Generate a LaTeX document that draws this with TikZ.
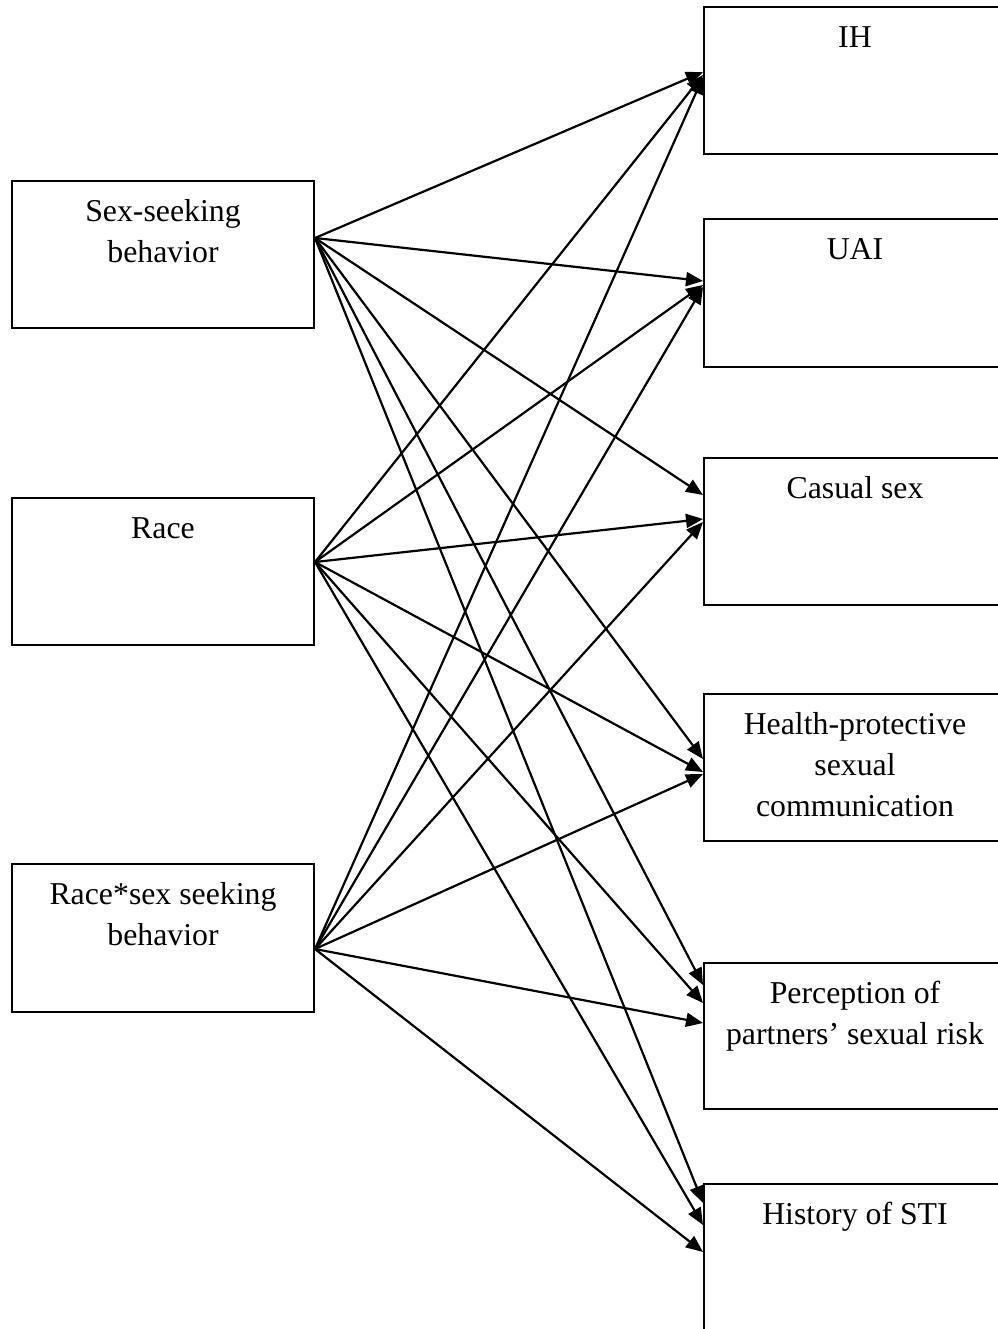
\documentclass[tikz,border=0pt]{standalone}
\usepackage{fontspec}
\setmainfont{Liberation Serif}
\usetikzlibrary{arrows.meta,calc}
\begin{document}
\begin{tikzpicture}[x=1pt,y=-1pt,
  box/.style={draw,line width=2pt,minimum width=302pt,inner sep=0pt,anchor=north west},
  lbl/.style={anchor=north,align=center,inner sep=0pt,font=\fontsize{31.8}{41}\selectfont},
  arr/.style={line width=2.2pt,-{Triangle[length=17pt,width=14pt]}}]
\useasboundingbox (0,0) rectangle (997,1329);
% left boxes
\node[box,minimum height=147pt] (ss) at (11,180) {};
\node[box,minimum height=147pt] (race) at (11,497) {};
\node[box,minimum height=148pt] (rs) at (11,863) {};
% right boxes
\node[box,minimum height=147pt] (ih) at (703,6) {};
\node[box,minimum height=148pt] (uai) at (703,218) {};
\node[box,minimum height=147pt] (cas) at (703,457) {};
\node[box,minimum height=147pt] (hp) at (703,693) {};
\node[box,minimum height=146pt] (per) at (703,962) {};
\node[box,minimum height=150pt] (sti) at (703,1183) {};
% labels
\node[lbl] (sst) at ($(ss.north)+(0,12.3)$) {\strut Sex-seeking\\behavior};
\node[lbl] (racet) at ($(race.north)+(0,12.3)$) {\strut Race};
\node[lbl] (rst) at ($(rs.north)+(0,12.3)$) {\strut Race*sex seeking\\behavior};
\node[lbl] (iht) at ($(ih.north)+(0,12.3)$) {\strut IH};
\node[lbl] (uait) at ($(uai.north)+(0,12.3)$) {\strut UAI};
\node[lbl] (cast) at ($(cas.north)+(0,12.3)$) {\strut Casual sex};
\node[lbl] (hpt) at ($(hp.north)+(0,12.3)$) {\strut Health-protective\\sexual\\communication};
\node[lbl] (pert) at ($(per.north)+(0,12.3)$) {\strut Perception of\\partners’ sexual risk};
\node[lbl] (stit) at ($(sti.north)+(0,12.3)$) {\strut History of STI};
% source points
\coordinate (s1) at ($(ss.north east)+(0,58)$);
\coordinate (s2) at ($(race.north east)+(0,65)$);
\coordinate (s3) at ($(rs.north east)+(0,86)$);
% arrows from Sex-seeking behavior
\draw[arr] (s1) -- ($(ih.north west)+(0,66)$);
\draw[arr] (s1) -- ($(uai.north west)+(0,63)$);
\draw[arr] (s1) -- ($(cas.north west)+(0,38)$);
\draw[arr] (s1) -- ($(hp.north west)+(0,66)$);
\draw[arr] (s1) -- ($(per.north west)+(0,23)$);
\draw[arr] (s1) -- ($(sti.north west)+(0,20)$);
% arrows from Race
\draw[arr] (s2) -- ($(ih.north west)+(0,69)$);
\draw[arr] (s2) -- ($(uai.north west)+(0,67)$);
\draw[arr] (s2) -- ($(cas.north west)+(0,62)$);
\draw[arr] (s2) -- ($(hp.north west)+(0,79)$);
\draw[arr] (s2) -- ($(per.north west)+(0,41)$);
\draw[arr] (s2) -- ($(sti.north west)+(0,42)$);
% arrows from Race*sex seeking behavior
\draw[arr] (s3) -- ($(ih.north west)+(0,71)$);
\draw[arr] (s3) -- ($(uai.north west)+(0,69)$);
\draw[arr] (s3) -- ($(cas.north west)+(0,65)$);
\draw[arr] (s3) -- ($(hp.north west)+(0,81)$);
\draw[arr] (s3) -- ($(per.north west)+(0,61)$);
\draw[arr] (s3) -- ($(sti.north west)+(0,69)$);
\end{tikzpicture}
\end{document}
